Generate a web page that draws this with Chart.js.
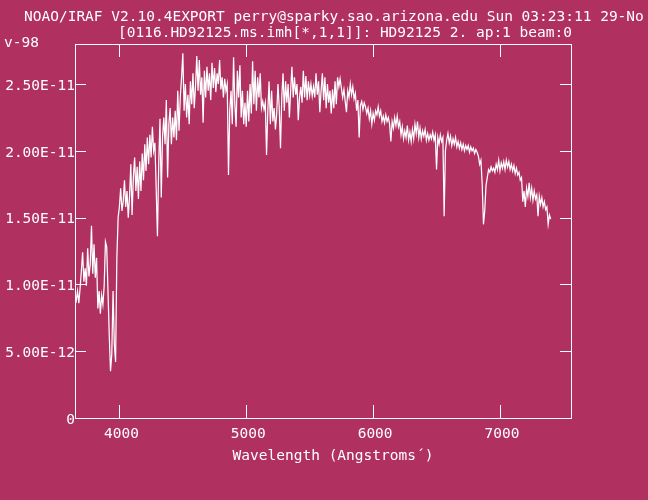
<!DOCTYPE html>
<html>
<head>
<meta charset="utf-8">
<script src="https://cdn.jsdelivr.net/npm/chart.js@4.4.0/dist/chart.umd.min.js"></script>
<style>
  html, body { margin: 0; padding: 0; background: #b03060; }
  canvas { display: block; }
</style>
</head>
<body>
<canvas id="spectrum" width="648" height="500"></canvas>
<script>
// wavelength of each sample (Angstroms)
const wavelengths = [
  3650,3660,3670,3680,3690,3700,3710,3720,3730,3740,
  3750,3760,3770,3780,3790,3800,3810,3820,3830,3840,
  3850,3860,3870,3880,3890,3900,3910,3920,3930,3940,
  3950,3960,3970,3980,3990,4000,4010,4020,4030,4040,
  4050,4060,4070,4080,4090,4100,4110,4120,4130,4140,
  4150,4160,4170,4180,4190,4200,4210,4220,4230,4240,
  4250,4260,4270,4280,4290,4300,4310,4320,4330,4340,
  4350,4360,4370,4380,4390,4400,4410,4420,4430,4440,
  4450,4460,4470,4480,4490,4500,4510,4520,4530,4540,
  4550,4560,4570,4580,4590,4600,4610,4620,4630,4640,
  4650,4660,4670,4680,4690,4700,4710,4720,4730,4740,
  4750,4760,4770,4780,4790,4800,4810,4820,4830,4840,
  4850,4860,4870,4880,4890,4900,4910,4920,4930,4940,
  4950,4960,4970,4980,4990,5000,5010,5020,5030,5040,
  5050,5060,5070,5080,5090,5100,5110,5120,5130,5140,
  5150,5160,5170,5180,5190,5200,5210,5220,5230,5240,
  5250,5260,5270,5280,5290,5300,5310,5320,5330,5340,
  5350,5360,5370,5380,5390,5400,5410,5420,5430,5440,
  5450,5460,5470,5480,5490,5500,5510,5520,5530,5540,
  5550,5560,5570,5580,5590,5600,5610,5620,5630,5640,
  5650,5660,5670,5680,5690,5700,5710,5720,5730,5740,
  5750,5760,5770,5780,5790,5800,5810,5820,5830,5840,
  5850,5860,5870,5880,5890,5900,5910,5920,5930,5940,
  5950,5960,5970,5980,5990,6000,6010,6020,6030,6040,
  6050,6060,6070,6080,6090,6100,6110,6120,6130,6140,
  6150,6160,6170,6180,6190,6200,6210,6220,6230,6240,
  6250,6260,6270,6280,6290,6300,6310,6320,6330,6340,
  6350,6360,6370,6380,6390,6400,6410,6420,6430,6440,
  6450,6460,6470,6480,6490,6500,6510,6520,6530,6540,
  6550,6560,6570,6580,6590,6600,6610,6620,6630,6640,
  6650,6660,6670,6680,6690,6700,6710,6720,6730,6740,
  6750,6760,6770,6780,6790,6800,6810,6820,6830,6840,
  6850,6860,6870,6880,6890,6900,6910,6920,6930,6940,
  6950,6960,6970,6980,6990,7000,7010,7020,7030,7040,
  7050,7060,7070,7080,7090,7100,7110,7120,7130,7140,
  7150,7160,7170,7180,7190,7200,7210,7220,7230,7240,
  7250,7260,7270,7280,7290,7300,7310,7320,7330,7340,
  7350,7360,7370,7380,7390,7400
];

// flux, in units of 1E-11
const flux = [
  0.92,0.88,0.95,0.86,0.97,1.10,1.24,1.02,1.12,0.99,
  1.27,1.06,1.15,1.44,1.08,1.30,1.05,1.20,0.82,0.95,
  0.78,0.92,0.85,0.99,1.32,1.28,0.95,0.62,0.35,0.48,
  0.95,0.55,0.42,1.20,1.50,1.58,1.72,1.55,1.62,1.78,
  1.58,1.70,1.50,1.66,1.90,1.52,1.80,1.95,1.70,1.88,
  1.64,1.92,1.70,1.98,1.78,2.05,1.85,2.10,1.90,2.12,
  1.95,2.18,2.00,2.06,1.72,1.36,1.90,2.24,1.65,2.10,
  2.25,2.05,2.38,1.80,2.20,2.32,2.05,2.25,2.10,2.30,
  2.08,2.45,2.15,2.40,2.55,2.73,2.30,2.50,2.25,2.42,
  2.20,2.52,2.35,2.58,2.32,2.48,2.71,2.45,2.68,2.42,
  2.55,2.21,2.60,2.40,2.63,2.45,2.58,2.38,2.66,2.47,
  2.62,2.44,2.58,2.50,2.68,2.46,2.55,2.40,2.54,2.45,
  2.50,1.82,2.30,2.45,2.20,2.70,2.35,2.18,2.60,2.40,
  2.64,2.25,2.45,2.20,2.36,2.18,2.45,2.22,2.50,2.28,
  2.67,2.35,2.60,2.30,2.55,2.40,2.58,2.32,2.37,2.31,
  2.36,1.97,2.30,2.52,2.20,2.45,2.22,2.32,2.16,2.28,
  2.50,2.32,2.02,2.40,2.58,2.30,2.52,2.36,2.50,2.25,
  2.45,2.63,2.40,2.55,2.42,2.50,2.23,2.40,2.48,2.36,
  2.60,2.40,2.56,2.38,2.52,2.42,2.50,2.41,2.48,2.40,
  2.58,2.42,2.52,2.29,2.45,2.58,2.38,2.55,2.32,2.50,
  2.36,2.45,2.28,2.46,2.32,2.52,2.35,2.55,2.48,2.54,
  2.47,2.40,2.46,2.37,2.29,2.45,2.40,2.50,2.42,2.48,
  2.39,2.43,2.30,2.38,2.10,2.34,2.37,2.31,2.36,2.33,
  2.28,2.32,2.24,2.30,2.20,2.28,2.23,2.30,2.27,2.33,
  2.26,2.30,2.22,2.26,2.21,2.27,2.22,2.25,2.20,2.07,
  2.22,2.17,2.25,2.19,2.26,2.18,2.22,2.12,2.18,2.09,
  2.15,2.10,2.19,2.08,2.14,2.07,2.16,2.09,2.20,2.13,
  2.22,2.10,2.17,2.09,2.15,2.11,2.16,2.08,2.13,2.08,
  2.12,2.09,2.14,2.08,2.12,1.86,2.10,2.05,2.12,2.07,
  2.10,1.51,2.00,2.08,2.13,2.06,2.11,2.04,2.09,2.05,
  2.10,2.03,2.07,2.02,2.06,2.01,2.05,2.00,2.04,2.01,
  2.04,1.99,2.03,2.00,2.02,1.98,2.01,1.99,1.96,1.90,
  1.93,1.75,1.45,1.55,1.74,1.80,1.86,1.84,1.88,1.85,
  1.87,1.84,1.90,1.86,1.93,1.85,1.91,1.87,1.92,1.86,
  1.93,1.88,1.92,1.86,1.90,1.85,1.89,1.83,1.87,1.82,
  1.84,1.78,1.80,1.62,1.70,1.58,1.72,1.66,1.76,1.65,
  1.72,1.63,1.70,1.64,1.67,1.51,1.66,1.60,1.65,1.58,
  1.62,1.56,1.58,1.45,1.52,1.49
];

const xTicks = [4000, 5000, 6000, 7000];
const yTicks = [0, 0.5, 1.0, 1.5, 2.0, 2.5];
const yTickLabels = ['0', '5.00E-12', '1.00E-11', '1.50E-11', '2.00E-11', '2.50E-11'];

const headerLines = [
  'NOAO/IRAF V2.10.4EXPORT perry@sparky.sao.arizona.edu Sun 03:23:11 29-No',
  '[0116.HD92125.ms.imh[*,1,1]]: HD92125 2. ap:1 beam:0',
  'v-98'
];
const xTitle = 'Wavelength (Angstroms\u00b4)';

const bgColor = '#b03060';
const fg = '#ffffff';
const monoFont = { family: '"DejaVu Sans Mono", "Liberation Mono", monospace', size: 14.5 };
const fontStr = `${monoFont.size}px ${monoFont.family}`;

// fondo, marco con ticks hacia dentro y textos de cabecera estilo IRAF
const irafFrame = {
  id: 'irafFrame',
  beforeDraw(chart) {
    const ctx = chart.ctx;
    ctx.save();
    ctx.fillStyle = bgColor;
    ctx.fillRect(0, 0, chart.width, chart.height);
    ctx.restore();
  },
  afterDraw(chart) {
    const { ctx, chartArea: a, scales } = chart;
    ctx.save();
    ctx.strokeStyle = fg;
    ctx.lineWidth = 1;
    ctx.strokeRect(a.left + 0.5, a.top + 0.5, a.right - a.left, a.bottom - a.top);

    ctx.beginPath();
    xTicks.forEach(v => {
      const px = Math.round(scales.x.getPixelForValue(v)) + 0.5;
      ctx.moveTo(px, a.bottom); ctx.lineTo(px, a.bottom - 13);
      ctx.moveTo(px, a.top);    ctx.lineTo(px, a.top + 13);
    });
    yTicks.slice(1).forEach(v => {
      const py = Math.round(scales.y.getPixelForValue(v)) + 0.5;
      ctx.moveTo(a.left, py);  ctx.lineTo(a.left + 11, py);
      ctx.moveTo(a.right, py); ctx.lineTo(a.right - 11, py);
    });
    ctx.stroke();

    ctx.fillStyle = fg;
    ctx.font = fontStr;
    ctx.textBaseline = 'middle';
    ctx.textAlign = 'left';
    ctx.fillText(headerLines[0], 24, 17);
    ctx.fillText(headerLines[1], 118, 33);
    ctx.fillText(headerLines[2], 4, 43);
    ctx.textAlign = 'center';
    ctx.fillText(xTitle, 333, 456);
    ctx.restore();
  }
};

const ctx = document.getElementById('spectrum').getContext('2d');
new Chart(ctx, {
  type: 'line',
  data: {
    datasets: [{
      label: 'HD92125',
      data: wavelengths.map((w, i) => ({ x: w, y: flux[i] })),
      borderColor: fg,
      borderWidth: 1.25,
      pointRadius: 0,
      fill: false,
      tension: 0
    }]
  },
  options: {
    responsive: false,
    animation: false,
    devicePixelRatio: 1,
    layout: { padding: { top: 44, right: 77, left: 0, bottom: 0 } },
    scales: {
      x: {
        type: 'linear',
        min: 3650,
        max: 7560,
        afterBuildTicks: scale => { scale.ticks = xTicks.map(v => ({ value: v })); },
        afterFit: scale => { scale.height = 82; },
        grid: { display: false, drawTicks: false },
        border: { display: false },
        ticks: { color: fg, font: monoFont, padding: 8, labelOffset: 2, maxRotation: 0, autoSkip: false,
                 callback: v => String(v) }
      },
      y: {
        min: 0,
        max: 2.8,
        afterBuildTicks: scale => { scale.ticks = yTicks.map(v => ({ value: v })); },
        afterFit: scale => { scale.width = 75; },
        grid: { display: false, drawTicks: false },
        border: { display: false },
        ticks: { color: fg, font: monoFont, padding: 0, labelOffset: 2, autoSkip: false,
                 callback: v => yTickLabels[yTicks.indexOf(v)] }
      }
    },
    plugins: {
      legend: { display: false },
      tooltip: { enabled: false }
    }
  },
  plugins: [irafFrame]
});
</script>
</body>
</html>
